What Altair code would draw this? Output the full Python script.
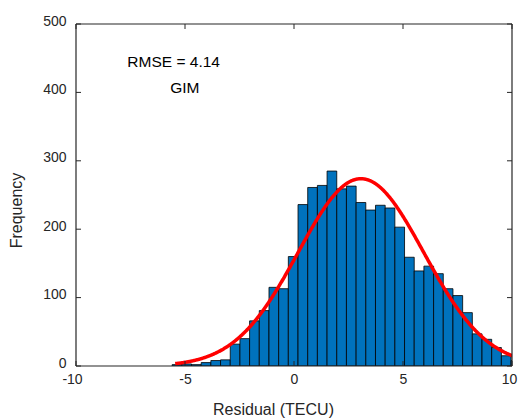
import altair as alt
import numpy as np
import pandas as pd

# Residual histogram: first bin edge, bin width, and counts per bin
bin_start = -5.590
bin_width = 0.4442
counts = [2, 3, 2, 5, 8, 9, 32, 40, 66, 81, 115, 113, 160, 236, 261, 264, 285, 259,
          263, 239, 228, 235, 231, 203, 159, 139, 146, 135, 113, 103, 78, 47, 39, 27,
          15, 8]

# Normal fit to the residuals
fit_mean = 3.07
fit_std = 2.88
n_obs = 4450
fit_range = (-5.45, 10.6)

x_limits = [-10, 10]
y_limits = [0, 500]
x_ticks = [-10, -5, 0, 5, 10]
y_ticks = [0, 100, 200, 300, 400, 500]

notes = ["RMSE = 4.14", "GIM"]
note_x = [-5.52, -5.01]
note_y = [445, 406]

W, H = 436, 342
INK = "#262626"
FONT = "Liberation Sans"

edges = bin_start + bin_width * np.arange(len(counts) + 1)
bars = pd.DataFrame({"lo": edges[:-1], "hi": edges[1:], "count": counts})

xs = np.arange(fit_range[0], fit_range[1] + 1e-9, 0.02)
pdf = np.exp(-0.5 * ((xs - fit_mean) / fit_std) ** 2) / (fit_std * np.sqrt(2 * np.pi))
fit = pd.DataFrame({"x": xs, "y": n_obs * bin_width * pdf})

xscale = alt.Scale(domain=x_limits, nice=False, zero=False)
yscale = alt.Scale(domain=y_limits, nice=False)

# end labels sit slightly left of their ticks
x_label_shift = {
    "condition": [
        {"test": "datum.value == -10", "value": -4},
        {"test": "datum.value == 10", "value": -3},
    ],
    "value": 0,
}

hist = alt.Chart(bars).mark_bar(
    color="#0072BD", stroke="black", strokeWidth=0.8, clip=True
).encode(
    x=alt.X("lo:Q", scale=xscale, axis=alt.Axis(
        values=x_ticks, ticks=False, domain=False, grid=False, labelFlush=False,
        labelExpr="'' + datum.value", labelFontSize=14, labelPadding=6,
        labelOffset=x_label_shift,
        labelColor=INK, labelFont=FONT,
        title="Residual (TECU)", titleFontSize=16, titleFontWeight="normal",
        titleColor=INK, titleFont=FONT, titleX=197, titleY=43,
        titleBaseline="middle", titleAlign="center")),
    x2="hi:Q",
    y=alt.Y("count:Q", scale=yscale, axis=alt.Axis(
        values=y_ticks, ticks=False, domain=False, grid=False, labelFlush=False,
        labelFontSize=14, labelPadding=10, labelColor=INK, labelFont=FONT,
        labelOffset=-3,
        title="Frequency", titleFontSize=16, titleFontWeight="normal",
        titleColor=INK, titleFont=FONT, titleX=-60, titleY=186,
        titleBaseline="middle", titleAlign="center", titleAngle=270)),
    y2=alt.datum(0),
)

curve = alt.Chart(fit).mark_line(color="#FF0000", strokeWidth=3.5, clip=True).encode(
    x=alt.X("x:Q", scale=xscale),
    y=alt.Y("y:Q", scale=yscale),
)

# axes box: full-length rules at the axis limits
box_v = alt.Chart(pd.DataFrame({"v": x_limits})).mark_rule(
    color=INK, strokeWidth=1.2).encode(x=alt.X("v:Q", scale=xscale))
box_h = alt.Chart(pd.DataFrame({"v": y_limits})).mark_rule(
    color=INK, strokeWidth=1.2).encode(y=alt.Y("v:Q", scale=yscale))

# inward tick marks on all four sides
xt = pd.DataFrame({"v": x_ticks})
yt = pd.DataFrame({"v": y_ticks})
tick_style = dict(color=INK, strokeWidth=1)
ticks = [
    alt.Chart(xt).mark_rule(**tick_style).encode(
        x=alt.X("v:Q", scale=xscale), y=alt.value(H), y2=alt.value(H - 5)),
    alt.Chart(xt).mark_rule(**tick_style).encode(
        x=alt.X("v:Q", scale=xscale), y=alt.value(0), y2=alt.value(5)),
    alt.Chart(yt).mark_rule(**tick_style).encode(
        y=alt.Y("v:Q", scale=yscale), x=alt.value(0), x2=alt.value(5)),
    alt.Chart(yt).mark_rule(**tick_style).encode(
        y=alt.Y("v:Q", scale=yscale), x=alt.value(W), x2=alt.value(W - 5)),
]

labels = alt.Chart(pd.DataFrame({"t": notes, "x": note_x, "y": note_y})).mark_text(
    fontSize=15.5, font=FONT, color="black", align="center", baseline="middle"
).encode(
    x=alt.X("x:Q", scale=xscale),
    y=alt.Y("y:Q", scale=yscale),
    text="t:N",
)

chart = alt.layer(hist, curve, box_v, box_h, *ticks, labels).properties(
    width=W, height=H,
    background="white",
    autosize=alt.AutoSizeParams(type="none"),
    padding={"left": 76, "top": 24, "right": 6, "bottom": 53},
).configure_view(strokeWidth=0)

chart.save("out.html", embed_options={"renderer": "svg", "actions": False})
